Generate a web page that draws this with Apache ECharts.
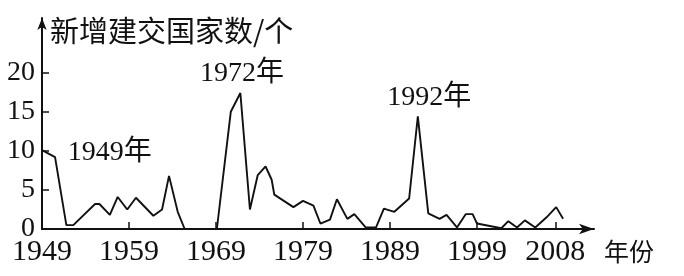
<!DOCTYPE html>
<html><head><meta charset="utf-8">
<script src="https://cdn.jsdelivr.net/npm/echarts@6/dist/echarts.min.js"></script>
<style>html,body{margin:0;padding:0;background:#fff}#c{width:684px;height:276px}</style>
</head><body><div id="c"></div>
<script>
// Data (year position, number of new diplomatic partners)
const years = [1949, 1950.5, 1951.8, 1952.6, 1955.1, 1955.6, 1956.8, 1957.7, 1958.8, 1959.8,
  1961.8, 1962.8, 1963.6, 1964.6, 1965.4, 1969.1, 1970.7, 1971.8, 1972.9, 1973.8,
  1974.7, 1975.4, 1975.7, 1977.9, 1979.0, 1980.2, 1981.0, 1982.1, 1982.9, 1984.1,
  1984.9, 1986.2, 1987.4, 1988.3, 1989.5, 1991.2, 1992.2, 1993.4, 1994.7, 1995.5,
  1996.7, 1997.7, 1998.5, 1999.0, 2001.8, 2002.6, 2003.6, 2004.5, 2005.7, 2007.0,
  2008.1, 2008.9];
const counts = [10.1, 9.2, 0.5, 0.5, 3.2, 3.2, 1.8, 4.1, 2.5, 4.0,
  1.7, 2.5, 6.8, 2.2, 0, 0, 15.0, 17.4, 2.5, 6.9,
  8.0, 6.3, 4.4, 2.8, 3.6, 3.0, 0.7, 1.2, 3.8, 1.3,
  1.9, 0.2, 0.2, 2.6, 2.2, 3.9, 14.4, 2.0, 1.3, 1.8,
  0.2, 1.9, 1.9, 0.7, 0.1, 1.0, 0.2, 1.1, 0.2, 1.5,
  2.8, 1.3];
const xTickYears = [1949, 1959, 1969, 1979, 1989, 1999, 2008];
const yTickValues = [0, 5, 10, 15, 20];
const yAxisName = '新增建交国家数/个';
const xAxisName = '年份';
const annotationTexts = ['1949年', '1972年', '1992年'];
const annotationYears = [1956.8, 1972.0, 1993.5];
const annotationValues = [9.8, 19.9, 16.8];

const serif = "'Liberation Serif', 'Noto Sans CJK SC', serif";
const cjk = "'Noto Sans CJK SC', sans-serif";
const ink = '#111';

const chart = echarts.init(document.getElementById('c'), null, {renderer: 'canvas'});
chart.setOption({
  animation: false,
  backgroundColor: '#fff',
  grid: {left: 42, right: 90, top: 18, bottom: 47},
  xAxis: {
    type: 'value', min: 1949, max: 2012.45,
    splitLine: {show: false},
    axisLine: {show: true, lineStyle: {color: ink, width: 2}, symbol: ['none', 'arrow'], symbolSize: [8, 15]},
    axisTick: {show: true, inside: true, length: 7, lineStyle: {color: ink, width: 1.5},
      customValues: xTickYears.slice(1)},
    axisLabel: {customValues: xTickYears, formatter: v => String(v), margin: 8,
      color: ink, fontFamily: serif, fontSize: 30},
    name: xAxisName, nameLocation: 'end', nameGap: 10,
    nameTextStyle: {color: ink, fontFamily: cjk, fontSize: 25, align: 'left', verticalAlign: 'top', padding: [10, 0, 0, 0]}
  },
  yAxis: {
    type: 'value', min: 0, max: 27,
    splitLine: {show: false},
    axisLine: {show: true, lineStyle: {color: ink, width: 2}, symbol: ['none', 'arrow'], symbolSize: [7, 12]},
    axisTick: {show: true, inside: true, length: 7, lineStyle: {color: ink, width: 1.5},
      customValues: yTickValues.slice(1)},
    axisLabel: {customValues: yTickValues, formatter: v => String(v), margin: 7,
      color: ink, fontFamily: serif, fontSize: 28},
    name: yAxisName, nameLocation: 'end', nameGap: 2,
    nameTextStyle: {color: ink, fontFamily: cjk, fontSize: 29, align: 'left', verticalAlign: 'top', padding: [0, 0, 0, 8]}
  },
  series: [{
    type: 'line',
    data: years.map((y, i) => [y, counts[i]]),
    symbol: 'none',
    clip: false,
    lineStyle: {color: ink, width: 1.9},
    markPoint: {
      symbol: 'circle', symbolSize: 0,
      label: {show: true, position: 'inside', color: ink, fontFamily: serif, fontSize: 28,
        formatter: p => p.name},
      data: annotationTexts.map((t, i) => ({name: t, coord: [annotationYears[i], annotationValues[i]]}))
    }
  }]
});
</script></body></html>
